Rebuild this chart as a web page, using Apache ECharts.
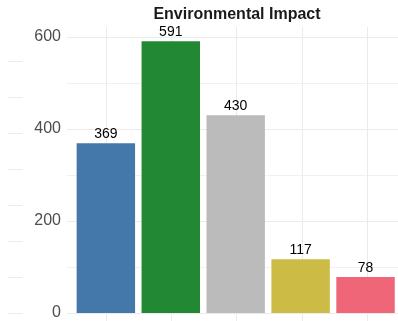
<!DOCTYPE html>
<html>
<head>
<meta charset="UTF-8"/>
<title>Environmental Impact</title>
<script src="https://cdn.jsdelivr.net/npm/echarts@6/dist/echarts.min.js"></script>
<style>
html, body { margin: 0; padding: 0; background: #fff; }
#chart { width: 398px; height: 321px; }
</style>
</head>
<body>
<div id="chart"></div>
<script>
// data
var categories = ['A', 'B', 'C', 'D', 'E'];
var impact = [369, 591, 430, 117, 78];
var yTicks = [0, 200, 400, 600];

var palette = ['#4477AA', '#228833', '#BBBBBB', '#CCBB44', '#EE6677'];
var font = 'Liberation Sans, Arial, sans-serif';
var gridColor = '#EBEBEB';

var chart = echarts.init(document.getElementById('chart'));

var option = {
    animation: false,
    title: {
        text: 'Environmental Impact',
        left: 232,
        textAlign: 'center',
        top: 2,
        textStyle: {fontFamily: font, fontSize: 16, fontWeight: 'bold', color: '#1a1a1a'}
    },
    grid: [
        // panel: horizontal grid + y labels
        {left: 67, right: -8, top: 37, bottom: 8},
        // bars
        {left: 73.4, width: 326.2, top: 37, bottom: 8},
        // vertical grid at category centres
        {left: 106, width: 261, top: 27, bottom: -2},
        // neighbouring panel peeking in at the left edge
        {left: -50, width: 58, top: 61, bottom: 8}
    ],
    xAxis: [
        {gridIndex: 0, type: 'value', min: 0, max: 1, show: false},
        {gridIndex: 1, type: 'category', data: categories, show: false},
        {gridIndex: 2, type: 'value', min: 0, max: 4, interval: 1,
            axisLine: {show: false}, axisTick: {show: false}, axisLabel: {show: false},
            splitLine: {show: true, lineStyle: {color: gridColor, width: 1}}},
        {gridIndex: 3, type: 'value', min: 0, max: 1, show: false}
    ],
    yAxis: [
        {gridIndex: 0, type: 'value', min: yTicks[0], max: yTicks[yTicks.length - 1], interval: 200,
            axisLine: {show: false}, axisTick: {show: false},
            axisLabel: {color: '#4D4D4D', fontFamily: font, fontSize: 16, margin: 6},
            splitLine: {show: true, lineStyle: {color: gridColor, width: 1}},
            minorTick: {show: false, splitNumber: 2},
            minorSplitLine: {show: true, lineStyle: {color: '#F0F0F0', width: 1}}},
        {gridIndex: 1, type: 'value', min: yTicks[0], max: yTicks[yTicks.length - 1], show: false},
        {gridIndex: 2, type: 'value', min: 0, max: 1, show: false},
        {gridIndex: 3, type: 'value', min: 0, max: 7, interval: 1,
            axisLine: {show: false}, axisTick: {show: false}, axisLabel: {show: false},
            splitLine: {show: true, lineStyle: {color: gridColor, width: 1}}}
    ],
    series: [{
        type: 'bar',
        xAxisIndex: 1,
        yAxisIndex: 1,
        barWidth: '90%',
        data: impact.map(function (v, i) {
            return {value: v, itemStyle: {color: palette[i]}};
        }),
        label: {
            show: true,
            position: 'top',
            distance: 2,
            color: '#000',
            fontFamily: font,
            fontSize: 14
        }
    }]
};

chart.setOption(option);
</script>
</body>
</html>
